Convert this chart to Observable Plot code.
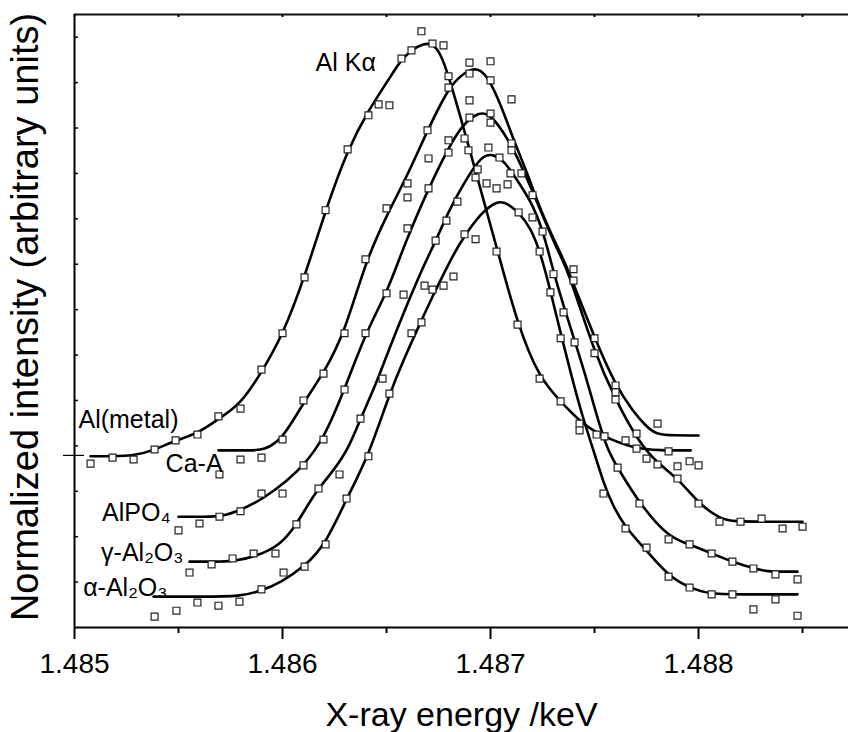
<!DOCTYPE html>
<html>
<head>
<meta charset="utf-8">
<script src="https://cdn.jsdelivr.net/npm/d3@7"></script>
<script src="https://cdn.jsdelivr.net/npm/@observablehq/plot@0.6"></script>
<style>
  html, body { margin: 0; padding: 0; background: #fff; }
  #chart svg { display: block; }
</style>
</head>
<body>
<div id="chart"></div>
<script>
// ---- Data (x: keV, y: normalized intensity, arbitrary units) ----
const seriesNames = ["Al(metal)", "Ca-A", "AlPO4", "γ-Al2O3", "α-Al2O3"];

// fitted curves
const alMetalCurve = [[1.485077,3.77],[1.485293,3.77],[1.485389,3.92],[1.485486,4.12],[1.485591,4.27],[1.485688,4.58],[1.485798,4.91],[1.485899,5.62],[1.486000,6.43],[1.486106,7.71],[1.486207,9.19],[1.486313,10.53],[1.486413,11.39],[1.486514,12.09],[1.486567,12.49],[1.486625,12.73],[1.486678,12.86],[1.486721,12.86],[1.486760,12.64],[1.486798,12.16],[1.486870,11.01],[1.486918,10.22],[1.486976,9.25],[1.487034,8.30],[1.487130,6.67],[1.487236,5.48],[1.487337,4.98],[1.487433,4.52],[1.487529,4.23],[1.487688,3.94],[1.487817,3.90],[1.487962,3.90]];
const caACurve = [[1.485692,3.90],[1.485846,3.90],[1.485909,3.90],[1.486000,4.14],[1.486101,4.96],[1.486197,5.59],[1.486298,6.48],[1.486399,8.06],[1.486500,9.07],[1.486601,9.96],[1.486697,10.95],[1.486793,11.83],[1.486841,12.09],[1.486904,12.31],[1.486952,12.29],[1.486990,12.09],[1.487048,11.54],[1.487111,10.73],[1.487178,10.00],[1.487240,9.19],[1.487322,8.37],[1.487370,7.93],[1.487500,6.37],[1.487601,5.33],[1.487688,4.74],[1.487745,4.45],[1.487793,4.25],[1.487889,4.23],[1.488000,4.23]];
const alpo4Curve = [[1.485500,2.44],[1.485630,2.44],[1.485702,2.44],[1.485798,2.58],[1.485909,2.84],[1.486024,3.24],[1.486101,3.57],[1.486197,4.14],[1.486298,5.24],[1.486399,6.48],[1.486500,7.36],[1.486567,8.19],[1.486615,8.74],[1.486702,9.67],[1.486798,10.57],[1.486870,11.10],[1.486942,11.34],[1.486986,11.32],[1.487034,11.10],[1.487096,10.66],[1.487159,10.07],[1.487240,9.19],[1.487322,8.30],[1.487370,7.91],[1.487500,6.04],[1.487601,5.02],[1.487707,4.12],[1.487803,3.61],[1.487899,3.30],[1.488000,2.73],[1.488101,2.40],[1.488168,2.33],[1.488346,2.33],[1.488500,2.33]];
const gammaCurve = [[1.485553,1.45],[1.485678,1.45],[1.485760,1.45],[1.485870,1.56],[1.485990,1.81],[1.486067,2.27],[1.486120,2.69],[1.486173,3.06],[1.486245,3.46],[1.486313,3.90],[1.486375,4.60],[1.486447,5.33],[1.486519,6.21],[1.486591,7.03],[1.486678,7.97],[1.486736,8.50],[1.486793,9.12],[1.486870,9.78],[1.486962,10.42],[1.487010,10.42],[1.487063,10.29],[1.487120,9.91],[1.487192,9.41],[1.487250,8.79],[1.487303,7.82],[1.487351,7.09],[1.487404,6.32],[1.487457,5.55],[1.487510,4.67],[1.487563,3.90],[1.487611,3.52],[1.487716,2.73],[1.487856,1.98],[1.487957,1.83],[1.488063,1.63],[1.488163,1.45],[1.488264,1.30],[1.488332,1.23],[1.488418,1.23],[1.488476,1.23]];
const alphaCurve = [[1.485380,0.68],[1.485606,0.68],[1.485798,0.68],[1.485899,0.81],[1.485990,0.99],[1.486106,1.34],[1.486207,1.83],[1.486308,2.84],[1.486413,3.77],[1.486514,5.15],[1.486591,5.99],[1.486668,6.76],[1.486721,7.29],[1.486774,7.78],[1.486822,8.22],[1.486870,8.59],[1.486952,9.12],[1.487034,9.41],[1.487082,9.34],[1.487135,9.14],[1.487192,8.81],[1.487240,8.26],[1.487288,7.42],[1.487337,6.48],[1.487385,5.62],[1.487433,4.78],[1.487495,3.90],[1.487543,3.19],[1.487587,2.69],[1.487649,2.20],[1.487721,1.85],[1.487856,1.12],[1.487957,0.88],[1.488048,0.73],[1.488250,0.73],[1.488476,0.73]];

// measured points (open squares)
const alMetalPoints = [[1.485077,3.61],[1.485183,3.74],[1.485284,3.70],[1.485385,3.92],[1.485486,4.12],[1.485591,4.25],[1.485692,4.65],[1.485798,4.82],[1.485899,5.68],[1.486000,6.48],[1.486106,7.71],[1.486207,9.19],[1.486313,10.53],[1.486413,11.28],[1.486462,11.52],[1.486514,11.50],[1.486572,12.53],[1.486620,12.71],[1.486668,13.13],[1.486721,12.86],[1.486774,12.82],[1.486798,12.14],[1.486938,10.09],[1.487029,8.28],[1.487130,6.67],[1.487236,5.48],[1.487337,4.98],[1.487428,4.49],[1.487428,4.34],[1.487510,4.25],[1.487548,4.21],[1.487649,4.12],[1.487702,3.94],[1.487856,3.88]];
const caAPoints = [[1.485697,3.37],[1.485798,3.70],[1.485899,3.74],[1.486000,4.14],[1.486101,5.00],[1.486197,5.59],[1.486298,6.48],[1.486399,8.11],[1.486500,9.23],[1.486601,9.78],[1.486601,9.47],[1.486702,10.33],[1.486697,10.95],[1.486798,11.89],[1.486899,12.44],[1.487000,12.47],[1.486899,12.20],[1.487000,12.05],[1.487101,11.63],[1.487101,10.66],[1.487202,9.52],[1.487399,7.89],[1.487500,6.37],[1.487601,5.33],[1.487601,5.18],[1.487702,4.27],[1.487803,4.49],[1.487750,3.72],[1.487899,3.55],[1.487957,3.66],[1.488000,3.57]];
const alpo4Points = [[1.485500,2.14],[1.485601,2.29],[1.485697,2.44],[1.485798,2.56],[1.485899,2.95],[1.486000,2.95],[1.486101,3.57],[1.486197,4.14],[1.486298,5.24],[1.486399,6.48],[1.486500,7.36],[1.486601,8.79],[1.486702,9.67],[1.486798,10.73],[1.486798,10.46],[1.486875,10.77],[1.486894,10.51],[1.486899,11.61],[1.486899,11.23],[1.487000,11.32],[1.487000,11.12],[1.487101,10.51],[1.487149,10.00],[1.487399,7.64],[1.487500,6.04],[1.487601,5.02],[1.487803,3.59],[1.487899,3.28],[1.488000,2.73],[1.488101,2.33],[1.488202,2.33],[1.488303,2.40],[1.488404,2.18],[1.488500,2.22]];
const gammaPoints = [[1.485553,1.21],[1.485659,1.39],[1.485760,1.52],[1.485861,1.63],[1.485966,1.63],[1.486067,2.27],[1.486173,3.06],[1.486274,3.37],[1.486375,4.60],[1.486481,5.48],[1.486582,7.33],[1.486620,6.48],[1.486683,7.53],[1.486736,8.52],[1.486788,8.96],[1.486841,9.38],[1.486928,9.91],[1.486981,9.78],[1.486990,10.57],[1.487029,9.67],[1.487043,10.35],[1.487082,9.76],[1.487096,10.00],[1.487202,9.03],[1.487250,8.72],[1.487303,7.78],[1.487351,6.94],[1.487404,6.28],[1.487611,3.52],[1.487716,2.73],[1.487856,1.94],[1.487957,1.83],[1.488063,1.63],[1.488163,1.45],[1.488264,1.30],[1.488370,1.17],[1.488476,1.06]];
const alphaPoints = [[1.485385,0.24],[1.485490,0.37],[1.485591,0.55],[1.485692,0.48],[1.485793,0.57],[1.485899,0.84],[1.486005,1.21],[1.486106,1.34],[1.486207,1.83],[1.486308,2.84],[1.486413,3.77],[1.486514,5.15],[1.486668,6.72],[1.486721,7.44],[1.486774,7.53],[1.486822,7.73],[1.486875,8.66],[1.486928,8.55],[1.487135,9.14],[1.487236,8.28],[1.487288,7.38],[1.487337,6.37],[1.487543,2.95],[1.487649,2.18],[1.487750,1.76],[1.487856,1.12],[1.487957,0.88],[1.488063,0.73],[1.488163,0.73],[1.488264,0.40],[1.488370,0.62],[1.488476,0.26]];

// axis ticks
const xMajorTicks = [1.485, 1.486, 1.487, 1.488];
const xMinorTicks = [1.4855, 1.4865, 1.4875, 1.4885];
const yTicks = [1,2,3,4,5,6,7,8,9,10,11,12,13];
const baselineMark = [3.79];

// labels (text, x, y)
const leftLabels = [
  {text: "Al(metal)", x: 1.485019, y: 4.58},
  {text: "Ca-A", x: 1.485438, y: 3.61},
  {text: "Al Kα", x: 1.486159, y: 12.44}
];
const rightLabels = [
  {text: "AlPO₄", x: 1.485462, y: 2.53},
  {text: "γ-Al₂O₃", x: 1.485524, y: 1.65},
  {text: "α-Al₂O₃", x: 1.485447, y: 0.88}
];
const xTitle = "X-ray energy /keV";
const yTitle = "Normalized intensity (arbitrary units)";

// ---- build tables ----
const curveArrays = [alMetalCurve, caACurve, alpo4Curve, gammaCurve, alphaCurve];
const pointArrays = [alMetalPoints, caAPoints, alpo4Points, gammaPoints, alphaPoints];
const curves = seriesNames.flatMap((s, i) => curveArrays[i].map(([x, y]) => ({series: s, x, y})));
const points = seriesNames.flatMap((s, i) => pointArrays[i].map(([x, y]) => ({series: s, x, y})));

const font = "'Liberation Sans', Arial, Helvetica, sans-serif";
const blank = () => "";

const chart = Plot.plot({
  width: 848,
  height: 732,
  marginLeft: 74,
  marginRight: 0,
  marginTop: 14,
  marginBottom: 105,
  style: {fontFamily: font, background: "white", color: "black"},
  x: {domain: [1.485, 1.488721]},
  y: {domain: [0, 13.5]},
  marks: [
    // frame
    Plot.ruleY([0], {stroke: "black", strokeWidth: 2}),
    Plot.ruleY([13.5], {stroke: "#111", strokeWidth: 2}),
    Plot.ruleX([1.485], {stroke: "black", strokeWidth: 2}),
    // bottom axis
    Plot.axisX({ticks: xMajorTicks, tickSize: 12, tickPadding: 14, tickFormat: d3.format(".3f"), fontSize: 28, strokeWidth: 2, label: null}),
    Plot.axisX({ticks: xMinorTicks, tickSize: 6, tickFormat: blank, strokeWidth: 2, label: null}),
    // top axis tiny ticks
    Plot.axisX({anchor: "top", ticks: xMajorTicks.concat(xMinorTicks), tickSize: -2, tickFormat: blank, strokeWidth: 2, label: null}),
    // left axis inner ticks
    Plot.axisY({ticks: yTicks, tickSize: -4, tickFormat: blank, strokeWidth: 1.5, label: null}),
    Plot.axisY({ticks: baselineMark, tickSize: 11, tickFormat: blank, strokeWidth: 1.2, label: null}),
    Plot.axisY({ticks: baselineMark, tickSize: -10, tickFormat: blank, strokeWidth: 1.2, label: null}),
    // fitted curves
    Plot.line(curves, {x: "x", y: "y", z: "series", curve: "basis", stroke: "black", strokeWidth: 2.6}),
    // measured points
    Plot.dot(points, {x: "x", y: "y", symbol: "square", r: 3.9, fill: "white", stroke: "#222", strokeWidth: 1.2}),
    // series labels
    Plot.text(leftLabels, {x: "x", y: "y", text: "text", textAnchor: "start", fontSize: 25, fill: "black"}),
    Plot.text(rightLabels, {x: "x", y: "y", text: "text", textAnchor: "end", fontSize: 25, fill: "black"}),
    // axis titles
    Plot.text([xTitle], {frameAnchor: "bottom", textAnchor: "middle", dy: 88, fontSize: 34, fill: "black", lineAnchor: "middle"}),
    Plot.text([yTitle], {frameAnchor: "left", textAnchor: "middle", dx: -49, dy: -4, rotate: -90, fontSize: 38, fill: "black", lineAnchor: "middle"})
  ]
});
document.getElementById("chart").appendChild(chart);
</script>
</body>
</html>
